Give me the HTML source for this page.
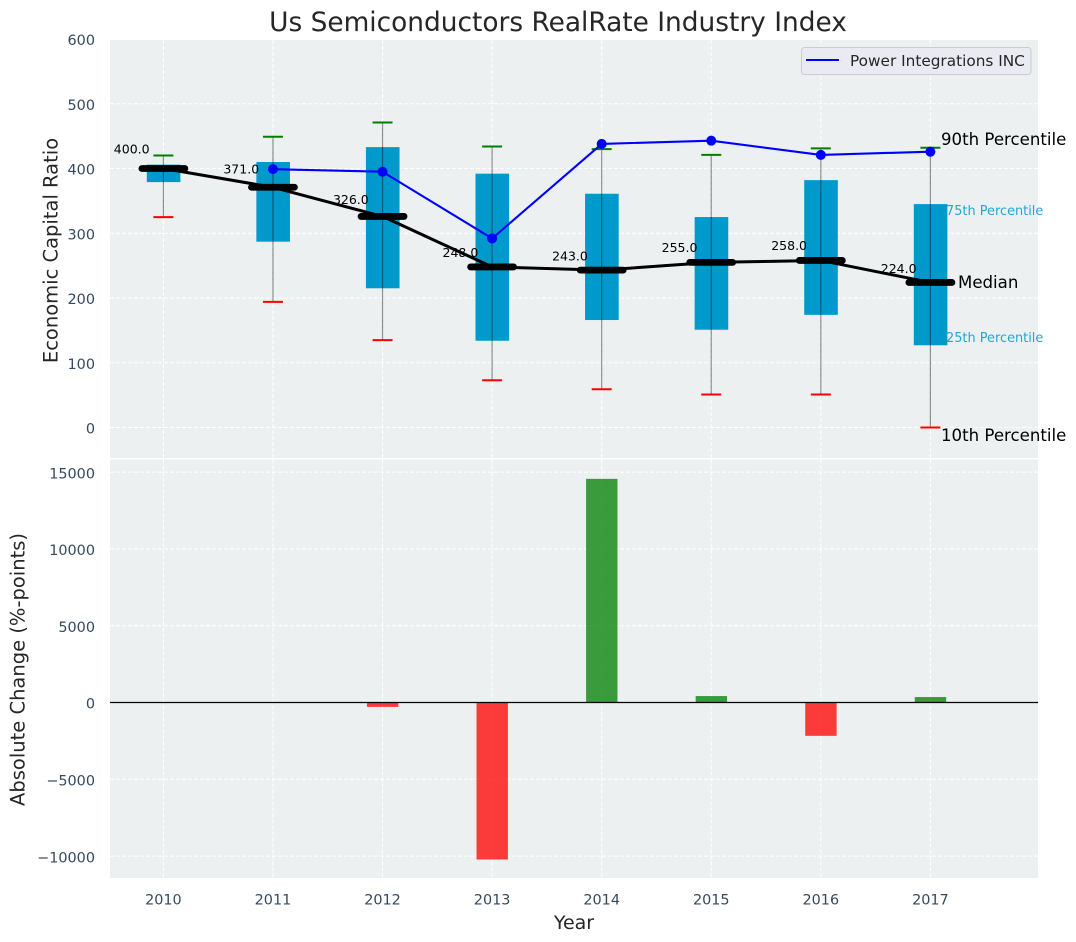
<!DOCTYPE html>
<html>
<head>
<meta charset="utf-8">
<title>Us Semiconductors RealRate Industry Index</title>
<style>
html,body{margin:0;padding:0;background:#fff;width:1076px;height:942px;overflow:hidden}
svg{display:block}
text{font-family:"DejaVu Sans","Liberation Sans",sans-serif}
</style>
</head>
<body>
<svg id="chart" xmlns="http://www.w3.org/2000/svg" width="1076" height="942" viewBox="0 0 1076 942"></svg>
<script>
const years = [2010, 2011, 2012, 2013, 2014, 2015, 2016, 2017];
const p90 = [420, 449, 471, 434, 430, 421, 431, 432];
const q3 = [406, 410, 433, 392, 361, 325, 382, 345];
const medians = [400, 371, 326, 248, 243, 255, 258, 224];
const q1 = [379, 287, 215, 134, 166, 151, 174, 127];
const p10 = [325, 194, 135, 73, 59, 51, 51, 0];
const companyValues = [null, 399, 395, 292, 438, 443, 421, 426];
const changes = [0, 0, -285, -10220, 14560, 420, -2170, 355];
const topTicks = [0, 100, 200, 300, 400, 500, 600];
const bottomTicks = [-10000, -5000, 0, 5000, 10000, 15000];

const svg = document.getElementById('chart');
const NS = 'http://www.w3.org/2000/svg';
const left = 110, right = 1038, top1 = 40, bot1 = 458, top2 = 459.5, bot2 = 878;
const xScale = function (year) { return 163.4 + (year - 2010) * 109.57; };
const yTop = function (v) { return 427.5 - v * 0.6475; };
const yBot = function (v) { return 702.5 - v * 0.01536; };

function mk(tag, attrs, text) {
  const el = document.createElementNS(NS, tag);
  for (const k in attrs) el.setAttribute(k, attrs[k]);
  if (text !== undefined) el.textContent = text;
  svg.appendChild(el);
  return el;
}
function fmtTick(v) { return v < 0 ? '\u2212' + Math.abs(v) : String(v); }

let el;

// title and axis titles
el = mk('text', {x: 558, y: 31, 'text-anchor': 'middle', 'font-size': 26.4, fill: '#262626'}, 'Us Semiconductors RealRate Industry Index');


el = mk('text', {x: 0, y: 0, 'text-anchor': 'middle', 'font-size': 19.5, fill: '#262626', transform: 'translate(57.5,250.5) rotate(-90)'}, 'Economic Capital Ratio');


el = mk('text', {x: 0, y: 0, 'text-anchor': 'middle', 'font-size': 19.5, fill: '#262626', transform: 'translate(24.5,669.5) rotate(-90)'}, 'Absolute Change (%-points)');


el = mk('text', {x: 574, y: 929, 'text-anchor': 'middle', 'font-size': 19, fill: '#262626'}, 'Year');



// plot backgrounds
el = mk('rect', {x: left, y: top1, width: right - left, height: bot1 - top1, fill: '#ecf0f1'});


el = mk('rect', {x: left, y: top2, width: right - left, height: bot2 - top2, fill: '#ecf0f1'});



// grid and ticks
topTicks.forEach(function (v) {
  const y = yTop(v);
  const g = mk('line', {x1: left, x2: right, y1: y, y2: y, stroke: '#fff', 'stroke-width': 1, 'stroke-dasharray': '4 2'});
  
  
  const t = mk('text', {x: 95, y: y + 6.2, 'text-anchor': 'end', 'font-size': 14.4, fill: '#34495e'}, fmtTick(v));
  
  
});
bottomTicks.forEach(function (v) {
  const y = yBot(v);
  const g = mk('line', {x1: left, x2: right, y1: y, y2: y, stroke: '#fff', 'stroke-width': 1, 'stroke-dasharray': '4 2'});
  
  
  const t = mk('text', {x: 95, y: y + 6.2, 'text-anchor': 'end', 'font-size': 14.4, fill: '#34495e'}, fmtTick(v));
  
  
});
years.forEach(function (yr) {
  const x = xScale(yr);
  const g1 = mk('line', {x1: x, x2: x, y1: top1, y2: bot1, stroke: '#fff', 'stroke-width': 1, 'stroke-dasharray': '4 2'});
  
  
  const g2 = mk('line', {x1: x, x2: x, y1: top2, y2: bot2, stroke: '#fff', 'stroke-width': 1, 'stroke-dasharray': '4 2'});
  
  
  const t = mk('text', {x: x, y: 904.5, 'text-anchor': 'middle', 'font-size': 14.4, fill: '#34495e'}, String(yr));
  
  
});

// boxes
years.forEach(function (yr, i) {
  const x = xScale(yr);
  const b = mk('rect', {x: x - 16.6, y: yTop(q3[i]), width: 33.6, height: yTop(q1[i]) - yTop(q3[i]), fill: '#0099cc'});
  
  
});
// whiskers and caps
years.forEach(function (yr, i) {
  const x = xScale(yr);
  const w = mk('line', {x1: x, x2: x, y1: yTop(p90[i]), y2: yTop(p10[i]), stroke: '#000', 'stroke-opacity': 0.42, 'stroke-width': 1.2});
  
  
  const c1 = mk('line', {x1: x - 10, x2: x + 10, y1: yTop(p90[i]), y2: yTop(p90[i]), stroke: '#008000', 'stroke-width': 2});
  
  
  const c2 = mk('line', {x1: x - 10, x2: x + 10, y1: yTop(p10[i]), y2: yTop(p10[i]), stroke: '#ff0000', 'stroke-width': 2});
  
  
});

// median line
el = mk('polyline', {points: years.map(function (yr, i) { return xScale(yr) + ',' + yTop(medians[i]); }).join(' '), fill: 'none', stroke: '#000', 'stroke-width': 3, 'stroke-linejoin': 'round'});


years.forEach(function (yr, i) {
  const x = xScale(yr);
  const m = mk('line', {x1: x - 21.5, x2: x + 21.5, y1: yTop(medians[i]), y2: yTop(medians[i]), stroke: '#000', 'stroke-width': 6.8, 'stroke-linecap': 'round'});
  
  
  const t = mk('text', {x: x - 49.6, y: yTop(medians[i] * 1.05) - 2, 'font-size': 12.5, fill: '#000'}, medians[i].toFixed(1));
  
  
});

// company line
el = mk('polyline', {points: years.map(function (yr, i) { return companyValues[i] === null ? null : xScale(yr) + ',' + yTop(companyValues[i]); }).filter(Boolean).join(' '), fill: 'none', stroke: '#0000ff', 'stroke-width': 2.1});


years.forEach(function (yr, i) {
  if (companyValues[i] === null) return;
  const p = mk('circle', {cx: xScale(yr), cy: yTop(companyValues[i]), r: 5, fill: '#0000ff'});
  
  
});

// percentile annotations
el = mk('text', {x: 941, y: 145, 'font-size': 16.6, fill: '#000'}, '90th Percentile');


el = mk('text', {x: 946, y: 215, 'font-size': 12.9, fill: '#0099cc', 'fill-opacity': 0.85}, '75th Percentile');


el = mk('text', {x: 958, y: 288, 'font-size': 16.6, fill: '#000'}, 'Median');


el = mk('text', {x: 946, y: 342, 'font-size': 12.9, fill: '#0099cc', 'fill-opacity': 0.85}, '25th Percentile');


el = mk('text', {x: 941, y: 441, 'font-size': 16.6, fill: '#000'}, '10th Percentile');



// legend
el = mk('rect', {x: 801.5, y: 47.5, width: 229.5, height: 27, rx: 3, fill: '#eaeaf2', stroke: '#cccccc', 'stroke-width': 1});


el = mk('line', {x1: 806, x2: 839, y1: 60, y2: 60, stroke: '#0000ff', 'stroke-width': 2});


el = mk('text', {x: 850, y: 66, 'font-size': 15.3, fill: '#262626'}, 'Power Integrations INC');



// change bars
years.forEach(function (yr, i) {
  const v = changes[i];
  if (v === 0) return;
  const y0 = yBot(0), y1 = yBot(v);
  const b = mk('rect', {x: xScale(yr) - 15.6, y: Math.min(y0, y1), width: 31.4, height: Math.abs(y1 - y0), fill: v > 0 ? '#008000' : '#ff0000', 'fill-opacity': 0.76});
  
  
});
el = mk('line', {x1: left, x2: right, y1: yBot(0), y2: yBot(0), stroke: '#000', 'stroke-width': 1.3});


</script>
</body>
</html>
